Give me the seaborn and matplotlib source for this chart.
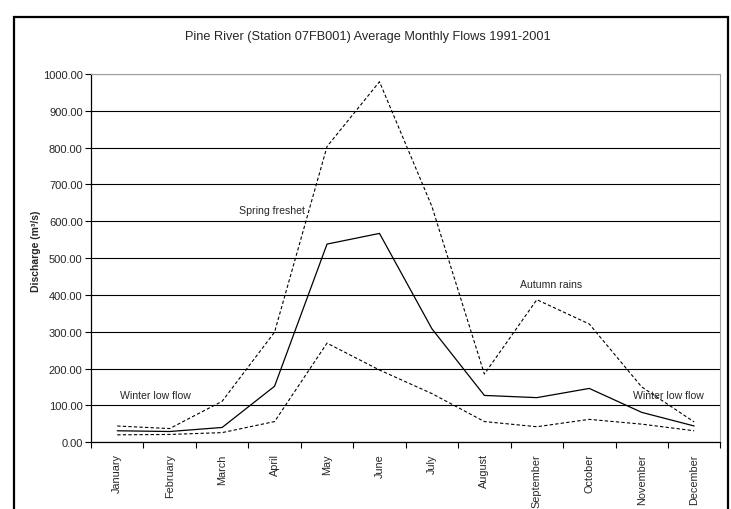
import pandas as pd
import seaborn as sns
import matplotlib.pyplot as plt
from matplotlib.patches import Rectangle
from matplotlib.ticker import FixedLocator

sns.set_theme(style="white")
plt.rcParams['font.family'] = ['Liberation Sans', 'DejaVu Sans']

months = ["January", "February", "March", "April", "May", "June", "July",
          "August", "September", "October", "November", "December"]
mean_flow = [31, 29, 40, 152, 538, 567, 308, 127, 121, 146, 81, 44]
max_flow = [44, 37, 111, 299, 803, 979, 640, 185, 387, 321, 150, 55]
min_flow = [20, 21, 26, 56, 269, 196, 132, 56, 42, 62, 49, 31]

df = pd.DataFrame({
    "month": range(len(months)),
    "mean": mean_flow,
    "max": max_flow,
    "min": min_flow,
})

fig = plt.figure(figsize=(7.31, 5.10), dpi=100)
ax = fig.add_axes([0.1245, 0.131, 0.861, 0.722])

sns.lineplot(data=df, x="month", y="max", ax=ax, color="black", lw=0.8,
             linestyle=(0, (3, 2)))
sns.lineplot(data=df, x="month", y="mean", ax=ax, color="black", lw=0.9)
sns.lineplot(data=df, x="month", y="min", ax=ax, color="black", lw=0.8,
             linestyle=(0, (3, 2)))

ax.set_xlim(-0.5, 11.5)
ax.set_ylim(0, 1000)
ax.set_yticks(range(0, 1001, 100))
ax.set_yticklabels([f"{v:.2f}" for v in range(0, 1001, 100)], fontsize=8)
ax.yaxis.grid(True, color="black", lw=0.8)
ax.set_axisbelow(True)

ax.set_xticks(range(12))
ax.set_xticklabels(months, rotation=90, fontsize=7.8)
ax.xaxis.set_minor_locator(FixedLocator([i - 0.5 for i in range(13)]))
ax.tick_params(axis="x", which="major", length=0, pad=8)
ax.tick_params(axis="x", which="minor", length=4, width=0.8, color="black",
               direction="out", bottom=True)
ax.tick_params(axis="y", length=4, width=0.8, color="black", direction="out",
               left=True, pad=2)

for side in ["left", "bottom"]:
    ax.spines[side].set_color("black")
    ax.spines[side].set_linewidth(0.9)
for side in ["top", "right"]:
    ax.spines[side].set_color("#a0a0a0")
    ax.spines[side].set_linewidth(0.8)

ax.set_xlabel("")
ax.set_ylabel("Discharge (m³/s)", fontsize=7.5, fontweight="bold", labelpad=4)
ax.yaxis.set_label_coords(-0.08, 0.52)

ax.text(2.95, 630, "Spring freshet", fontsize=7.6, ha="center", va="center")
ax.text(8.28, 430, "Autumn rains", fontsize=7.6, ha="center", va="center")
ax.text(0.72, 128, "Winter low flow", fontsize=7.6, ha="center", va="center")
ax.text(10.51, 128, "Winter low flow", fontsize=7.6, ha="center", va="center")

fig.text(0.503, 0.927, "Pine River (Station 07FB001) Average Monthly Flows 1991-2001",
         fontsize=9.2, ha="center", va="center")

fig.patches.append(Rectangle((14 / 731, -0.02), 714 / 731, 1 - 18 / 510 + 0.02,
                             transform=fig.transFigure, fill=False,
                             edgecolor="black", lw=1.6))

fig.savefig("out.png", dpi=100)
